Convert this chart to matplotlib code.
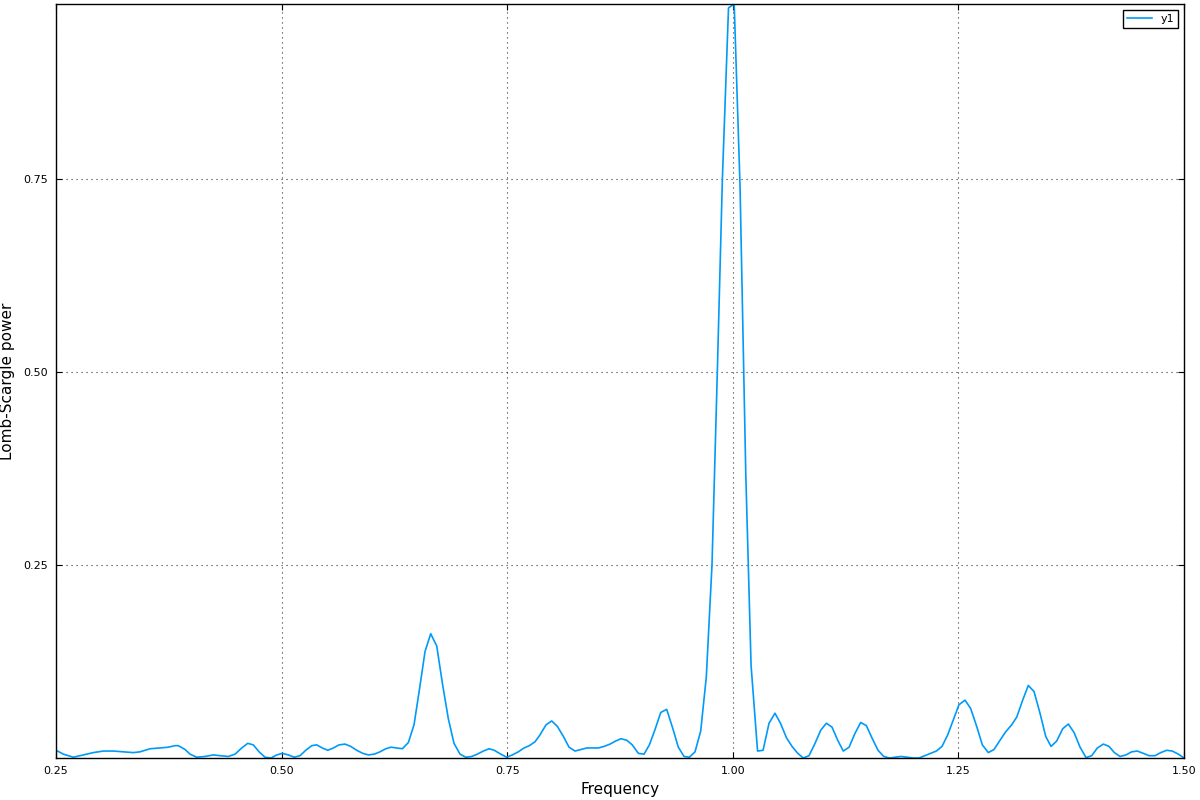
import matplotlib
matplotlib.use("Agg")
import matplotlib.pyplot as plt

# Lomb-Scargle periodogram, values
freq = [0.2500, 0.2581, 0.2692, 0.2803, 0.2913, 0.3024, 0.3135, 0.3246, 0.3357, 0.3431,
        0.3542, 0.3652, 0.3744, 0.3819, 0.3855, 0.3930, 0.3985, 0.4059, 0.4151, 0.4243,
        0.4317, 0.4409, 0.4484, 0.4558, 0.4624, 0.4686, 0.4750, 0.4816, 0.4883, 0.4946,
        0.5008, 0.5074, 0.5141, 0.5204, 0.5267, 0.5334, 0.5389, 0.5451, 0.5511, 0.5573,
        0.5636, 0.5703, 0.5766, 0.5832, 0.5899, 0.5961, 0.6027, 0.6090, 0.6154, 0.6212,
        0.6275, 0.6338, 0.6404, 0.6467, 0.6526, 0.6589, 0.6652, 0.6719, 0.6781, 0.6847,
        0.6910, 0.6977, 0.7040, 0.7107, 0.7169, 0.7235, 0.7298, 0.7357, 0.7428, 0.7494,
        0.7557, 0.7623, 0.7686, 0.7745, 0.7808, 0.7863, 0.7930, 0.7993, 0.8055, 0.8122,
        0.8185, 0.8251, 0.8314, 0.8381, 0.8443, 0.8510, 0.8573, 0.8639, 0.8702, 0.8761,
        0.8824, 0.8886, 0.8953, 0.9016, 0.9075, 0.9138, 0.9201, 0.9267, 0.9330, 0.9396,
        0.9459, 0.9518, 0.9581, 0.9644, 0.9706, 0.9769, 0.9828, 0.9884, 0.9952, 1.0015,
        1.0080, 1.0143, 1.0202, 1.0274, 1.0335, 1.0401, 1.0467, 1.0528, 1.0595, 1.0656,
        1.0720, 1.0781, 1.0844, 1.0911, 1.0974, 1.1036, 1.1099, 1.1162, 1.1224, 1.1288,
        1.1354, 1.1417, 1.1479, 1.1542, 1.1609, 1.1672, 1.1736, 1.1800, 1.1864, 1.1930,
        1.1997, 1.2063, 1.2126, 1.2191, 1.2255, 1.2318, 1.2381, 1.2445, 1.2506, 1.2573,
        1.2636, 1.2702, 1.2765, 1.2831, 1.2894, 1.2961, 1.3024, 1.3090, 1.3146, 1.3212,
        1.3274, 1.3338, 1.3404, 1.3467, 1.3526, 1.3589, 1.3656, 1.3718, 1.3781, 1.3848,
        1.3914, 1.3977, 1.4039, 1.4106, 1.4169, 1.4228, 1.4291, 1.4357, 1.4420, 1.4482,
        1.4549, 1.4612, 1.4679, 1.4742, 1.4808, 1.4870, 1.4937, 1.5000]

power = [0.010, 0.005, 0.001, 0.004, 0.007, 0.009, 0.009, 0.008, 0.007, 0.008,
         0.012, 0.013, 0.014, 0.016, 0.016, 0.011, 0.005, 0.001, 0.002, 0.004,
         0.003, 0.002, 0.005, 0.013, 0.019, 0.017, 0.008, 0.001, 0.000, 0.004,
         0.006, 0.004, 0.001, 0.003, 0.010, 0.016, 0.017, 0.013, 0.010, 0.013,
         0.017, 0.018, 0.015, 0.010, 0.006, 0.004, 0.005, 0.008, 0.012, 0.014,
         0.013, 0.012, 0.020, 0.043, 0.088, 0.138, 0.161, 0.145, 0.097, 0.051,
         0.019, 0.005, 0.001, 0.002, 0.005, 0.009, 0.012, 0.010, 0.005, 0.001,
         0.004, 0.008, 0.013, 0.016, 0.021, 0.030, 0.043, 0.048, 0.041, 0.028,
         0.014, 0.009, 0.011, 0.013, 0.013, 0.013, 0.015, 0.018, 0.022, 0.025,
         0.023, 0.017, 0.006, 0.005, 0.017, 0.037, 0.059, 0.063, 0.040, 0.014,
         0.002, 0.001, 0.008, 0.035, 0.105, 0.250, 0.500, 0.750, 0.972, 0.977,
         0.740, 0.370, 0.120, 0.009, 0.010, 0.045, 0.058, 0.045, 0.026, 0.015,
         0.006, 0.000, 0.003, 0.019, 0.036, 0.045, 0.040, 0.023, 0.009, 0.014,
         0.032, 0.046, 0.042, 0.026, 0.010, 0.002, 0.000, 0.001, 0.002, 0.001,
         0.000, 0.000, 0.003, 0.006, 0.009, 0.015, 0.030, 0.050, 0.069, 0.075,
         0.064, 0.041, 0.017, 0.007, 0.011, 0.023, 0.034, 0.043, 0.053, 0.075,
         0.094, 0.086, 0.058, 0.028, 0.015, 0.022, 0.038, 0.044, 0.033, 0.014,
         0.0005, 0.003, 0.013, 0.018, 0.015, 0.007, 0.002, 0.004, 0.008, 0.009,
         0.006, 0.003, 0.003, 0.007, 0.010, 0.009, 0.005, 0.000]

xticks = [0.25, 0.50, 0.75, 1.00, 1.25, 1.50]
yticks = [0.25, 0.50, 0.75]

fig = plt.figure(figsize=(12, 8), dpi=100)
ax = fig.add_axes([0.0467, 0.0525, 0.94, 0.9425])

ax.plot(freq, power, color="#009AF9", lw=1.2, label="y1")

ax.set_xlim(0.25, 1.5)
ax.set_ylim(min(power), max(power))
ax.set_xticks(xticks)
ax.set_xticklabels(["{:.2f}".format(t) for t in xticks])
ax.set_yticks(yticks)
ax.set_yticklabels(["{:.2f}".format(t) for t in yticks])
ax.tick_params(direction="in", labelsize=8, length=4, top=True, right=True, pad=6)
ax.grid(True, linestyle=(0, (1, 3.5)), color="k", lw=0.8, alpha=0.8)
for s in ax.spines.values():
    s.set_linewidth(1.0)

ax.set_xlabel("Frequency", fontsize=11)
ax.set_ylabel("Lomb-Scargle power", fontsize=11, labelpad=6)

leg = ax.legend(loc="upper right", fontsize=8, fancybox=False, framealpha=1,
                handlelength=2.2, borderaxespad=0.5)
leg.get_frame().set_edgecolor("k")
leg.get_frame().set_linewidth(1.0)

fig.savefig("out.png", dpi=100)
